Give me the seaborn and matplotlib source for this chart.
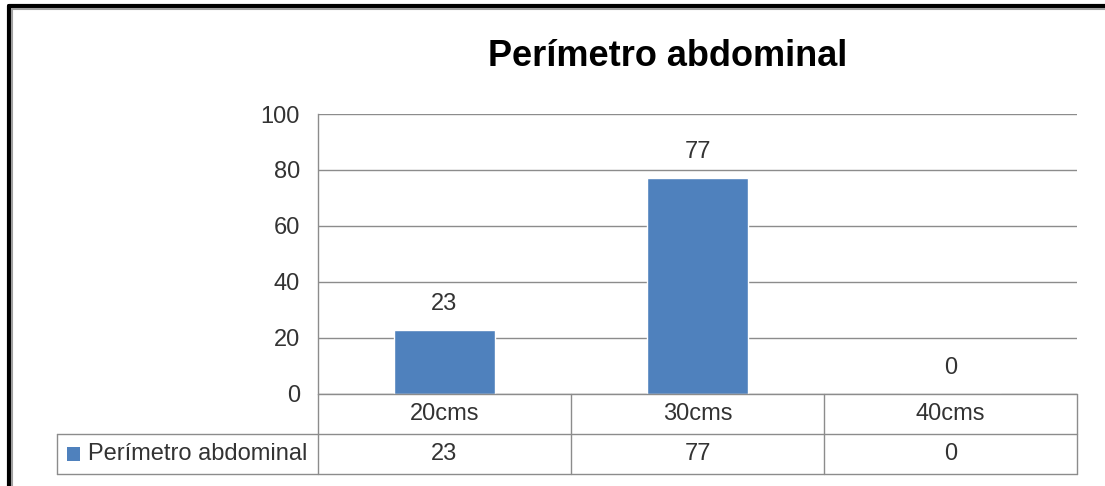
import matplotlib.pyplot as plt
import matplotlib.transforms as mtransforms
from matplotlib.lines import Line2D
from matplotlib.patches import Rectangle
import seaborn as sns
import pandas as pd

# chart data
categories = ['20cms', '30cms', '40cms']
values = [23, 77, 0]
series_name = 'Perímetro abdominal'
title = 'Perímetro abdominal'
y_ticks = [0, 20, 40, 60, 80, 100]

bar_color = '#4F81BD'
grid_color = '#8C8C8C'
text_color = '#333333'

sns.set_style('white')
plt.rcParams['font.family'] = ['Liberation Sans', 'DejaVu Sans']

W, H = 1105, 486
fig = plt.figure(figsize=(W / 100, H / 100), dpi=100)


def fx(px):
    return px / W


def fy(py):
    return 1 - py / H


# plot area in pixel terms of the reference
left, right, top, bottom = 318, 1077, 114, 394
ax = fig.add_axes([fx(left), fy(bottom), fx(right) - fx(left), fy(top) - fy(bottom)])

df = pd.DataFrame({'cat': categories, 'val': values})
sns.barplot(data=df, x='cat', y='val', color=bar_color, saturation=1,
            width=0.4, ax=ax, zorder=3)

ax.set_xlim(-0.5, len(categories) - 0.5)
ax.set_ylim(0, 100)
ax.set_yticks(y_ticks)
ax.set_yticklabels([str(t) for t in y_ticks])
ax.yaxis.grid(True, color=grid_color, lw=1)
ax.set_axisbelow(True)
ax.set_xticks([])
ax.set_xlabel('')
ax.set_ylabel('')
ax.tick_params(axis='y', length=0, pad=13, labelsize=17, labelcolor=text_color)
for side in ['top', 'right', 'bottom']:
    ax.spines[side].set_visible(False)
ax.spines['left'].set_color(grid_color)
ax.spines['left'].set_linewidth(1)

# data labels
for i, v in enumerate(values):
    ax.annotate(str(v), (i, v), xytext=(0, 26), textcoords='offset pixels',
                ha='center', va='center', fontsize=17, color=text_color)

# title
fig.text(fx(668), fy(57), title, ha='center', va='center', fontsize=26,
         fontweight='bold', color='black')

# data table under the axis: x in data units, y in figure units
tr = mtransforms.blended_transform_factory(ax.transData, fig.transFigure)
x_edges = [i - 0.5 for i in range(len(categories) + 1)]
row_top, row_mid, row_bot = fy(394), fy(434), fy(474)

line_kw = dict(color=grid_color, lw=1)
fig.add_artist(Line2D([x_edges[0], x_edges[-1]], [row_top, row_top], transform=tr, **line_kw))
fig.add_artist(Line2D([fx(57), fx(right)], [row_mid, row_mid], transform=fig.transFigure, **line_kw))
fig.add_artist(Line2D([fx(57), fx(right)], [row_bot, row_bot], transform=fig.transFigure, **line_kw))
fig.add_artist(Line2D([fx(57), fx(57)], [row_mid, row_bot], transform=fig.transFigure, **line_kw))
for xe in x_edges:
    fig.add_artist(Line2D([xe, xe], [row_top, row_bot], transform=tr, **line_kw))

for i, (c, v) in enumerate(zip(categories, values)):
    fig.text(i, (row_top + row_mid) / 2, c, transform=tr, ha='center', va='center',
             fontsize=17, color=text_color)
    fig.text(i, (row_mid + row_bot) / 2, str(v), transform=tr, ha='center', va='center',
             fontsize=17, color=text_color)

# legend key in the table row header
fig.add_artist(Rectangle((fx(67), fy(461)), fx(80) - fx(67), fy(447) - fy(461),
                         transform=fig.transFigure, color=bar_color, lw=0))
fig.text(fx(88), (row_mid + row_bot) / 2, series_name, ha='left', va='center',
         fontsize=17, color=text_color)

# outer frame (only top and left edges are visible in the crop)
fig.add_artist(Line2D([fx(9), 1], [fy(6), fy(6)], transform=fig.transFigure, color='black', lw=3))
fig.add_artist(Line2D([fx(9), fx(9)], [fy(6), 0], transform=fig.transFigure, color='black', lw=3))
fig.add_artist(Line2D([fx(12), 1], [fy(9.5), fy(9.5)], transform=fig.transFigure, color='#A0A0A0', lw=1.5))
fig.add_artist(Line2D([fx(12), fx(12)], [fy(9.5), 0], transform=fig.transFigure, color='#A0A0A0', lw=1.5))

fig.savefig('out.png', dpi=100)
